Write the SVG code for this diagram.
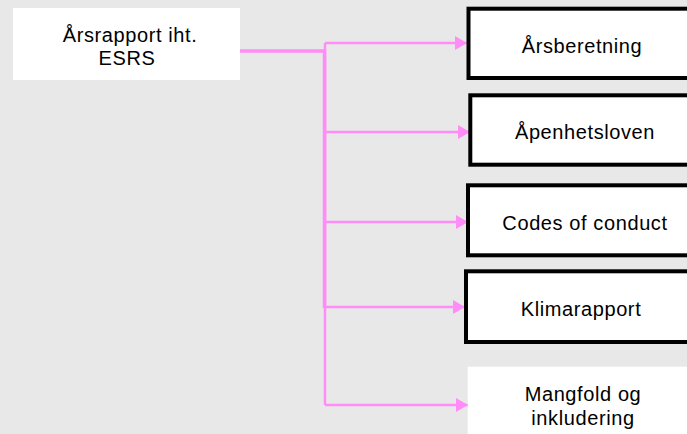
<svg xmlns="http://www.w3.org/2000/svg" width="687" height="434" viewBox="0 0 687 434">
<style>
  .lbl { font-family: "Liberation Sans", Arial, sans-serif; font-size: 20px; letter-spacing: 0.6px; fill: #000; text-anchor: middle; }
  .box { fill: #fff; stroke: #000; stroke-width: 4; }
  .plain { fill: #fff; stroke: none; }
  .conn { fill: none; stroke: #ff8cf7; stroke-width: 2.5; }
  .trunk { fill: none; stroke: #ff8cf7; stroke-width: 3.5; }
</style>
<defs>
  <marker id="arr" markerUnits="userSpaceOnUse" markerWidth="13" markerHeight="14" refX="12" refY="7" orient="auto">
    <polygon points="0,0 12,7 0,14" fill="#ff8cf7"/>
  </marker>
</defs>
<rect width="687" height="434" fill="#e8e8e8"/>
<g id="connectors">
  <path class="trunk" d="M240,51 H324.5 V308"/>
  <path class="conn" d="M325,43 V405"/>
  <path class="conn" d="M325,43 H467" marker-end="url(#arr)"/>
  <path class="conn" d="M325,132 H470" marker-end="url(#arr)"/>
  <path class="conn" d="M325,222 H468" marker-end="url(#arr)"/>
  <path class="conn" d="M325,307 H465" marker-end="url(#arr)"/>
  <path class="conn" d="M325,405 H468" marker-end="url(#arr)"/>
</g>
<g id="source">
  <rect class="plain" x="13" y="8" width="227" height="72"/>
  <text class="lbl" x="130" y="42">Årsrapport iht.</text>
  <text class="lbl" x="127" y="65">ESRS</text>
</g>
<g id="n1">
  <rect class="box" x="468.5" y="8.7" width="240" height="69.3"/>
  <text class="lbl" x="582" y="53">Årsberetning</text>
</g>
<g id="n2">
  <rect class="box" x="470.3" y="95.3" width="240" height="69.4"/>
  <text class="lbl" x="585" y="139">Åpenhetsloven</text>
</g>
<g id="n3">
  <rect class="box" x="468" y="185.3" width="240" height="70"/>
  <text class="lbl" x="585" y="230">Codes of conduct</text>
</g>
<g id="n4">
  <rect class="box" x="466" y="271.3" width="240" height="70.7"/>
  <text class="lbl" x="581" y="316">Klimarapport</text>
</g>
<g id="n5">
  <rect class="plain" x="467.7" y="366.7" width="230" height="80"/>
  <text class="lbl" x="583" y="401">Mangfold og</text>
  <text class="lbl" x="583" y="425">inkludering</text>
</g>
</svg>
